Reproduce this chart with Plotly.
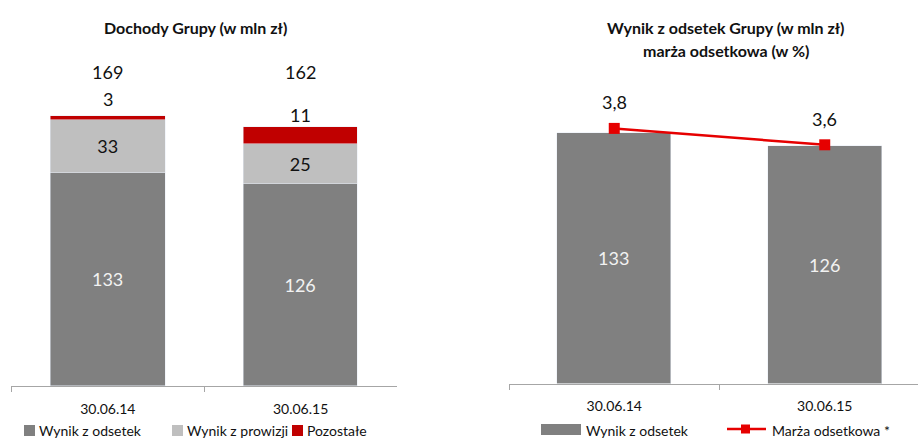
import plotly.graph_objects as go

# ---- data ----
dates = ["30.06.14", "30.06.15"]
wynik_odsetek = [133, 126]
wynik_prowizji = [33, 25]
pozostale = [3, 11]
dochody_razem = [169, 162]
marza = [3.8, 3.6]

W, H = 918, 440
FONT = "Lato, 'Open Sans', Arial, sans-serif"
DARK = "#808080"
LIGHT = "#bfbfbf"
RED = "#c00000"
LINE_RED = "#e60000"
AXIS = "#a6a6a6"


def px_x(x):
    return x / W


def px_y(y):
    return 1 - y / H


fig = go.Figure()

# ---- left chart: stacked income ----
fig.add_bar(x=dates, y=wynik_odsetek, name="Wynik z odsetek", marker_color=DARK,
            width=0.594, text=wynik_odsetek, textposition="inside",
            insidetextanchor="middle", textangle=0,
            textfont=dict(size=18, color="#f2f2f2", family=FONT),
            xaxis="x", yaxis="y", showlegend=False)
fig.add_bar(x=dates, y=wynik_prowizji, name="Wynik z prowizji", marker_color=LIGHT,
            width=0.594, text=wynik_prowizji, textposition="inside",
            insidetextanchor="middle", textangle=0,
            textfont=dict(size=18, color="#111111", family=FONT),
            xaxis="x", yaxis="y", showlegend=False)
fig.add_bar(x=dates, y=pozostale, name="Pozostałe", marker_color=RED,
            width=0.594, textposition="none",
            xaxis="x", yaxis="y", showlegend=False)

# ---- right chart: net interest income + margin ----
fig.add_bar(x=dates, y=wynik_odsetek, name="Wynik z odsetek", marker_color=DARK,
            width=0.543, text=wynik_odsetek, textposition="inside",
            insidetextanchor="middle", textangle=0,
            textfont=dict(size=18, color="#f2f2f2", family=FONT),
            xaxis="x2", yaxis="y2", showlegend=False)
fig.add_scatter(x=dates, y=marza, name="Marża odsetkowa *", mode="lines+markers",
                line=dict(color=LINE_RED, width=2.5),
                marker=dict(symbol="square", size=11, color=LINE_RED),
                xaxis="x2", yaxis="y3", showlegend=False)

annotations = []
shapes = []

# totals above the stacks
for d, t in zip(dates, dochody_razem):
    annotations.append(dict(x=d, y=max(dochody_razem) + 27, xref="x", yref="y",
                            text=str(t), showarrow=False,
                            font=dict(size=18, color="#111111", family=FONT)))
# "Pozostałe" values above the red segments
for d, t, p, ys in zip(dates, dochody_razem, pozostale, [17, 12]):
    annotations.append(dict(x=d, y=t, xref="x", yref="y", text=str(p),
                            showarrow=False, yshift=ys,
                            font=dict(size=18, color="#111111", family=FONT)))
# margin values above markers
for d, m in zip(dates, marza):
    annotations.append(dict(x=d, y=m, xref="x2", yref="y3",
                            text=f"{m:.1f}".replace(".", ","), showarrow=False,
                            yshift=26,
                            font=dict(size=18, color="#111111", family=FONT)))

# titles
title_font = dict(size=16, color="#111111", family=FONT)
for text, x, y in [("<b>Dochody Grupy (w mln zł)</b>", 195, 27),
                   ("<b>Wynik z odsetek Grupy (w mln zł)</b>", 725, 27),
                   ("<b>marża odsetkowa (w %)</b>", 726, 50)]:
    annotations.append(dict(x=px_x(x), y=px_y(y), xref="paper", yref="paper",
                            xanchor="center", yanchor="middle",
                            text=text, showarrow=False, font=title_font))

# legends (drawn as shapes + text at the bottom edge)
leg_font = dict(size=14, color="#111111", family=FONT)
leg_y = 430.5
sq_top, sq_bot = 425, 436
left_items = [("Wynik z odsetek", DARK, 24), ("Wynik z prowizji", LIGHT, 172),
              ("Pozostałe", RED, 292)]
for label, color, x0 in left_items:
    shapes.append(dict(type="rect", xref="paper", yref="paper",
                       x0=px_x(x0), x1=px_x(x0 + 11), y0=px_y(sq_bot), y1=px_y(sq_top),
                       fillcolor=color, line_width=0))
    annotations.append(dict(x=px_x(x0 + 13), y=px_y(leg_y), xref="paper", yref="paper",
                            xanchor="left", yanchor="middle", text=label,
                            showarrow=False, font=leg_font))

shapes.append(dict(type="rect", xref="paper", yref="paper",
                   x0=px_x(541), x1=px_x(581), y0=px_y(sq_bot - 1), y1=px_y(sq_top - 1),
                   fillcolor=DARK, line_width=0))
annotations.append(dict(x=px_x(584), y=px_y(leg_y), xref="paper", yref="paper",
                        xanchor="left", yanchor="middle", text="Wynik z odsetek",
                        showarrow=False, font=leg_font))
shapes.append(dict(type="line", xref="paper", yref="paper",
                   x0=px_x(727), x1=px_x(766), y0=px_y(429), y1=px_y(429),
                   line=dict(color=LINE_RED, width=2.5)))
shapes.append(dict(type="rect", xref="paper", yref="paper",
                   x0=px_x(741), x1=px_x(750), y0=px_y(433.5), y1=px_y(424.5),
                   fillcolor=LINE_RED, line_width=0))
annotations.append(dict(x=px_x(770), y=px_y(leg_y), xref="paper", yref="paper",
                        xanchor="left", yanchor="middle", text="Marża odsetkowa *",
                        showarrow=False, font=leg_font))

xaxis_common = dict(type="category", showline=True, linecolor=AXIS, linewidth=1.3,
                    ticks="outside", tickson="boundaries", ticklen=5, tickcolor=AXIS,
                    showgrid=False, zeroline=False, ticklabelstandoff=10,
                    tickfont=dict(size=14, color="#111111", family=FONT))

fig.update_layout(
    width=W, height=H, margin=dict(l=0, r=0, t=0, b=0),
    paper_bgcolor="white", plot_bgcolor="white",
    barmode="stack", bargap=0,
    xaxis=dict(domain=[px_x(11.4), px_x(397)], range=[-0.5, 1.5], anchor="y",
               **xaxis_common),
    yaxis=dict(domain=[px_y(386), 1], range=[0, 386 / 1.6], visible=False),
    xaxis2=dict(domain=[px_x(509), 1], range=[-0.5, -0.5 + 409 / 210.5], anchor="y2",
                **xaxis_common),
    yaxis2=dict(domain=[px_y(383.5), 1], range=[0, 383.5 / 1.886], visible=False,
                anchor="x2"),
    yaxis3=dict(overlaying="y2", range=[(440 - 383.5) / 82, 440 / 82], visible=False,
                anchor="x2"),
    annotations=annotations,
    shapes=shapes,
    showlegend=False,
    font=dict(family=FONT),
)

fig.write_html("out.html")
